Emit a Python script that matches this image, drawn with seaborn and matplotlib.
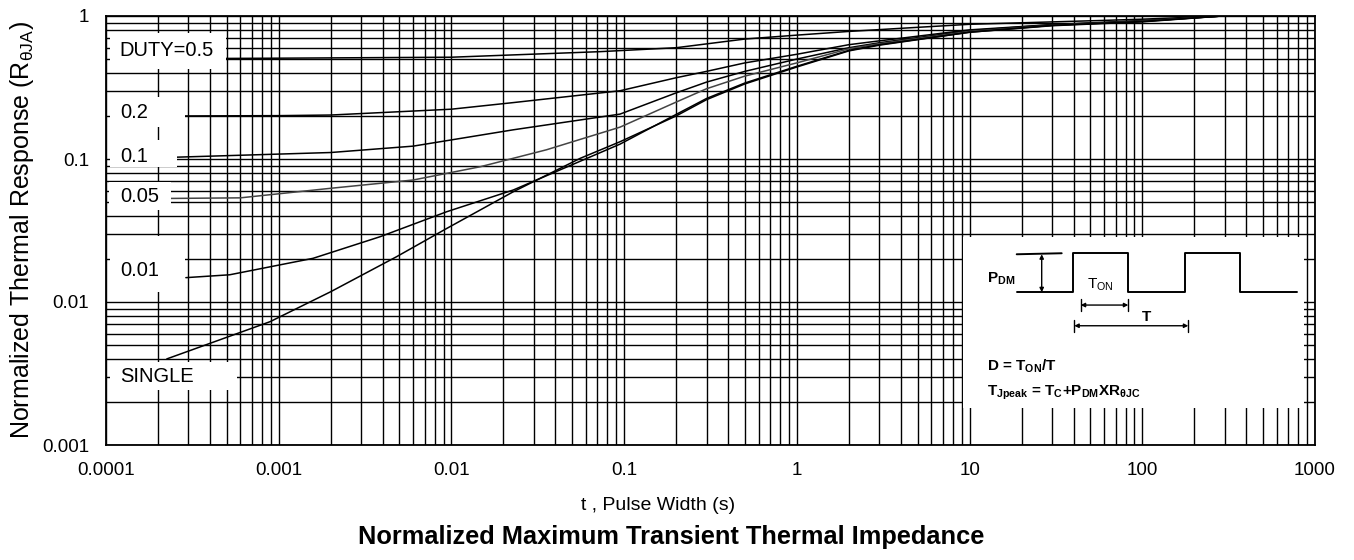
import numpy as np
import pandas as pd
import seaborn as sns
import matplotlib.pyplot as plt
from matplotlib.ticker import LogLocator, NullFormatter
from matplotlib.patches import Rectangle

# 1. curve data (t in s, normalized Z)
t_d50 = [4.95e-4, 1e-3, 0.01, 0.072, 0.2, 0.5, 1, 2, 4, 10, 57, 100, 290]
z_d50 = [0.505, 0.507, 0.515, 0.563, 0.60, 0.69, 0.735, 0.78, 0.82, 0.875, 0.93, 0.95, 1.0]

t_d20 = [2.87e-4, 1e-3, 2e-3, 0.01, 0.0228, 0.0946, 0.2, 0.3, 0.5, 1, 2, 3, 10, 30, 100, 290]
z_d20 = [0.2, 0.201, 0.203, 0.223, 0.248, 0.30, 0.37, 0.41, 0.47, 0.54, 0.63, 0.67, 0.80, 0.87, 0.93, 1.0]

t_d10 = [2.58e-4, 2e-3, 6e-3, 0.0228, 0.0946, 0.2, 0.3, 0.5, 1, 2, 3, 10, 30, 100, 290]
z_d10 = [0.103, 0.111, 0.123, 0.16, 0.206, 0.29, 0.345, 0.41, 0.50, 0.60, 0.65, 0.79, 0.87, 0.92, 1.0]

t_d05 = [2.38e-4, 6e-4, 2e-3, 6e-3, 0.0147, 0.0355, 0.0946, 0.2, 0.3, 0.5, 1, 2, 3, 10, 30, 100, 290]
z_d05 = [0.053, 0.0535, 0.0624, 0.0713, 0.0883, 0.116, 0.167, 0.25, 0.31, 0.38, 0.47, 0.59, 0.64, 0.78, 0.86, 0.92, 1.0]

t_d01 = [2.9e-4, 5.2e-4, 1.58e-3, 3.86e-3, 9.4e-3, 0.0228, 0.0946, 0.2, 0.3, 0.5, 1, 2, 3, 10, 30, 100, 290]
z_d01 = [0.0148, 0.0155, 0.0202, 0.0286, 0.0428, 0.0607, 0.127, 0.205, 0.265, 0.34, 0.445, 0.575, 0.63, 0.77, 0.86, 0.915, 1.0]

t_single = [2.25e-4, 8.9e-4, 2e-3, 4.8e-3, 9.4e-3, 0.0228, 0.0556, 0.0946, 0.2, 0.3, 0.5, 1, 2, 3, 10, 30, 100, 290]
z_single = [0.004, 0.00728, 0.0118, 0.0207, 0.0327, 0.059, 0.101, 0.132, 0.2, 0.26, 0.335, 0.44, 0.57, 0.625, 0.77, 0.855, 0.91, 1.0]

curve_labels = ["DUTY=0.5", "0.2", "0.1", "0.05", "0.01", "SINGLE"]
x_ticks = [1e-4, 1e-3, 1e-2, 1e-1, 1, 10, 100, 1000]
x_ticklabels = ["0.0001", "0.001", "0.01", "0.1", "1", "10", "100", "1000"]
y_ticks = [1e-3, 1e-2, 1e-1, 1]
y_ticklabels = ["0.001", "0.01", "0.1", "1"]

# 2. style
sns.set_style("white")
plt.rcParams["font.family"] = ["Liberation Sans", "DejaVu Sans"]
plt.rcParams["mathtext.fontset"] = "custom"
plt.rcParams["mathtext.rm"] = "Liberation Sans"
plt.rcParams["mathtext.it"] = "Liberation Sans:italic"
plt.rcParams["mathtext.bf"] = "Liberation Sans:bold"
for key in ["text.color", "axes.labelcolor", "xtick.color", "ytick.color"]:
    plt.rcParams[key] = "black"

W, H = 1354, 560
fig = plt.figure(figsize=(W / 100, H / 100), dpi=100)
ax = fig.add_axes([106 / W, 115 / H, 1209 / W, 429 / H])

# 3. curves
curves = [(t_d50, z_d50, "black"), (t_d20, z_d20, "black"), (t_d10, z_d10, "black"),
          (t_d05, z_d05, "#444444"), (t_d01, z_d01, "black"), (t_single, z_single, "black")]
for t, z, c in curves:
    sns.lineplot(x=t, y=z, ax=ax, color=c, lw=1.1, sort=False, zorder=2)

ax.set_xscale("log")
ax.set_yscale("log")
ax.set_xlim(1e-4, 1000)
ax.set_ylim(1e-3, 1)

ax.set_xticks(x_ticks)
ax.set_xticklabels(x_ticklabels)
ax.set_yticks(y_ticks)
ax.set_yticklabels(y_ticklabels)
for axis in (ax.xaxis, ax.yaxis):
    axis.set_minor_locator(LogLocator(base=10, subs=np.arange(2, 10), numticks=60))
    axis.set_minor_formatter(NullFormatter())
ax.tick_params(which="both", length=0)
ax.tick_params(axis="x", pad=12, labelsize=13.5)
ax.tick_params(axis="y", pad=12, labelsize=13.5)
ax.set_axisbelow(True)
ax.grid(True, which="both", color="black", lw=1.0)
for s in ax.spines.values():
    s.set_visible(True)
    s.set_color("black")
    s.set_linewidth(1.3)


def px(x, y):
    # pixel position in the picture -> axes fraction
    return (x - 106) / 1209, (445 - y) / 429


# white label boxes over the grid
boxes = [(110, 33, 226, 69), (110, 97, 185, 127), (110, 140, 177, 167),
         (109, 182, 171, 210), (110, 236, 185, 292), (110, 362, 237, 390)]
anchors = [(119, 51), (120, 112), (120, 156), (120, 196), (120, 270), (120, 376)]
for lab, (x0, y0, x1, y1), (tx, ty) in zip(curve_labels, boxes, anchors):
    bx, by = px(x0, y1)
    ex, ey = px(x1, y0)
    ax.add_patch(Rectangle((bx, by), ex - bx, ey - by, transform=ax.transAxes,
                           facecolor="white", edgecolor="none", zorder=3))
    ax.text(*px(tx, ty), lab, transform=ax.transAxes, fontsize=14.5,
            ha="left", va="center", zorder=4)

ax.set_xlabel("")
ax.set_ylabel(r"Normalized Thermal Response (R$_{\mathrm{θJA}}$)", fontsize=18)
ax.yaxis.set_label_coords(-0.058, 0.5)

fig.text(658 / W, 1 - 505 / H, "t , Pulse Width (s)", fontsize=14, ha="center", va="center")
fig.text(671 / W, 1 - 537 / H, "Normalized Maximum Transient Thermal Impedance",
         fontsize=18.3, fontweight="bold", ha="center", va="center")

# 4. inset with the pulse sketch
ax_in = fig.add_axes([963 / W, 1 - 408 / H, 341 / W, 171 / H])
ax_in.set_xlim(0, 1)
ax_in.set_ylim(0, 1)
ax_in.set_xticks([])
ax_in.set_yticks([])
ax_in.set_facecolor("white")
for s in ax_in.spines.values():
    s.set_visible(False)

base, top = 0.677, 0.905
wave_u = [0.1575, 0.3235, 0.3235, 0.4848, 0.4848, 0.651, 0.651, 0.8123, 0.8123, 0.9786]
wave_v = [base, base, top, top, base, base, top, top, base, base]
ax_in.plot(wave_u, wave_v, color="black", lw=1.4, solid_joinstyle="round")
ax_in.plot([0.1575, 0.2894], [0.899, 0.905], color="black", lw=1.4)
arrow = dict(arrowstyle="<|-|>", color="black", lw=1.0, mutation_scale=6, shrinkA=0, shrinkB=0)
ax_in.annotate("", xy=(0.2308, 0.899), xytext=(0.2308, base), arrowprops=arrow)
ax_in.annotate("", xy=(0.4848, 0.602), xytext=(0.3452, 0.602), arrowprops=arrow)
ax_in.annotate("", xy=(0.6607, 0.481), xytext=(0.3264, 0.481), arrowprops=arrow)
for u in (0.3452, 0.4848):
    ax_in.plot([u, u], [0.567, 0.637], color="black", lw=1.0)
for u in (0.3264, 0.6607):
    ax_in.plot([u, u], [0.444, 0.515], color="black", lw=1.0)

ax_in.text(0.0695, 0.758, r"$\mathbf{P_{DM}}$", fontsize=11, ha="left", va="center")
ax_in.text(0.3628, 0.719, r"$\mathrm{T_{ON}}$", fontsize=11, ha="left", va="center")
ax_in.text(0.5367, 0.535, "T", fontsize=11, fontweight="bold", ha="center", va="center")
ax_in.text(0.0695, 0.2415, r"D = $\mathbf{T_{ON}}$/T", fontsize=11, fontweight="bold",
           ha="left", va="center")
ax_in.text(0.0695, 0.086, r"$\mathbf{T_{Jpeak}}$ = $\mathbf{T_C}$+$\mathbf{P_{DM}}$X$\mathbf{R_{θJC}}$",
           fontsize=11, fontweight="bold", ha="left", va="center")

plt.savefig("out.png", dpi=100)
